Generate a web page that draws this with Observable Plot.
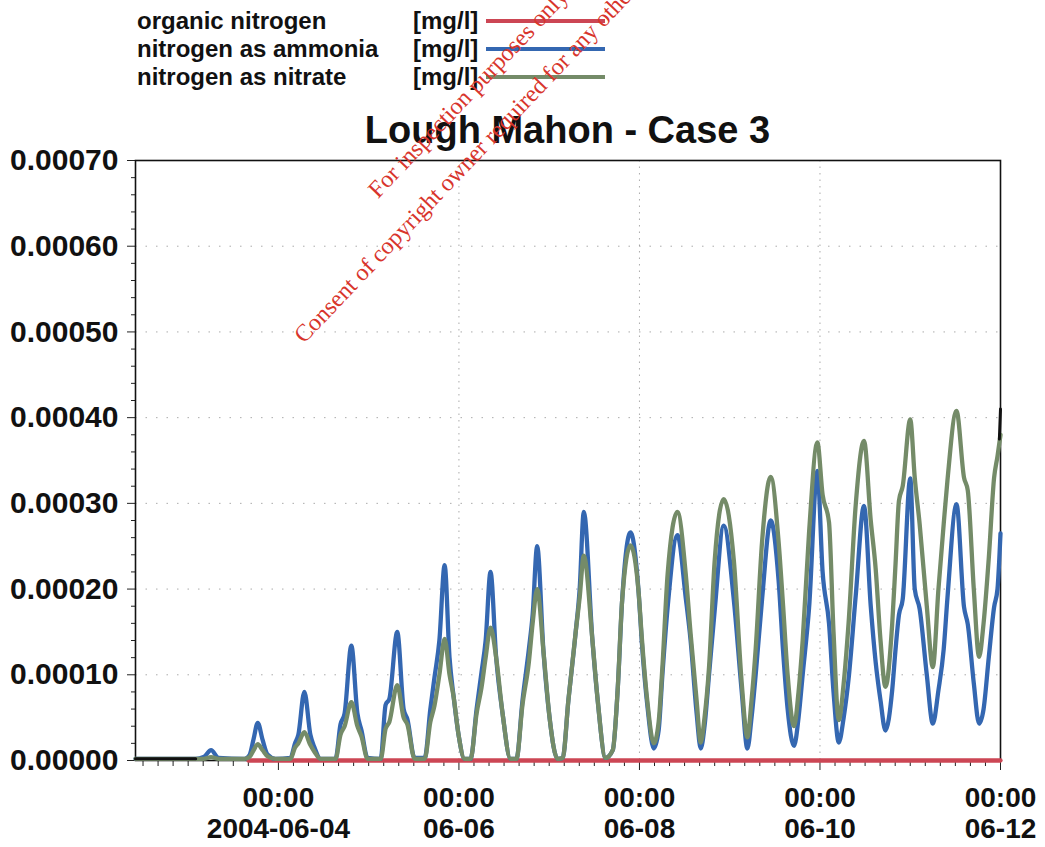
<!DOCTYPE html>
<html><head><meta charset="utf-8">
<script src="https://cdn.jsdelivr.net/npm/d3@7"></script>
<script src="https://cdn.jsdelivr.net/npm/@observablehq/plot@0.6"></script>
<style>
html,body{margin:0;padding:0;background:#fff;}
body{width:1045px;height:847px;position:relative;overflow:hidden;font-family:"Liberation Sans",Arial,sans-serif;color:#111;}
.lg{position:absolute;font-weight:bold;font-size:24px;line-height:26px;white-space:nowrap;}
.sw{position:absolute;height:4px;}
#title{position:absolute;left:135px;width:865px;top:108px;text-align:center;font-weight:bold;font-size:38px;line-height:44px;}
#chart{position:absolute;left:0;top:150px;}
.wm{position:absolute;font-family:"Liberation Serif","Times New Roman",serif;font-size:24px;line-height:24px;color:#d8352c;white-space:nowrap;transform-origin:0 100%;transform:rotate(-46.5deg);z-index:5;}
</style>
</head><body>
<div id="legend"></div>
<div id="title">Lough Mahon - Case 3</div>
<div id="chart"></div>
<div class="wm" style="left:381px;top:178px;">For inspection purposes only.</div>
<div class="wm" style="left:307px;top:323px;">Consent of copyright owner required for any other use.</div>
<script>
// ---- data (hours after 2004-06-02 00:00 UTC, values in mg/l) ----
const seriesNames = ["organic nitrogen", "nitrogen as ammonia", "nitrogen as nitrate"];
const seriesUnit = "[mg/l]";
const seriesColors = ["#cc4654", "#3467b1", "#748b68"];

const hours = [10.0, 26.0, 28.1, 30.1, 32.1, 39.0, 40.3, 41.4, 42.5, 43.8, 45.1, 47.2,
  51.2, 52.4, 53.3, 54.9, 56.5, 57.6, 59.2, 63.2, 64.5, 65.6, 67.4, 69.0, 70.1, 71.7,
  75.2, 76.5, 77.5, 79.6, 81.3, 82.3, 84.2, 86.9, 88.4, 89.5, 90.8, 92.2, 93.5, 94.6, 95.9, 97.5,
  99.1, 100.7, 102.0, 103.1, 104.4, 105.9, 107.6, 109.7, 111.3, 112.9, 114.6, 115.6, 116.8, 118.5, 120.1, 122.2,
  123.6, 125.1, 127.0, 128.1, 129.2, 131.5, 132.9, 135.0, 136.9, 138.2, 139.4, 141.6, 143.8, 144.6, 146.2, 147.8,
  149.1, 150.1, 151.5, 154.1, 156.3, 157.6, 159.2, 160.3, 161.3, 162.5, 164.0, 166.4, 169.1, 171.2, 172.7,
  173.8, 174.9, 176.6, 178.9, 181.0, 182.2, 183.4, 185.1, 186.3, 187.4, 189.1, 191.3, 192.7, 194.4, 195.6, 197.0,
  198.3, 199.6, 201.5, 203.7, 205.5, 206.8, 208.1, 209.4, 211.2, 212.1, 213.0, 214.0, 216.0, 217.2, 218.5, 220.4, 222.0,
  223.5, 224.9, 225.9, 228.3, 230.3, 231.3, 232.9, 234.3, 235.5, 236.9, 238.3, 239.2, 240.0];

const ammonia = [0.02e-4, 0.02e-4, 0.04e-4, 0.12e-4, 0.03e-4, 0.02e-4, 0.06e-4, 0.25e-4, 0.44e-4, 0.24e-4, 0.07e-4, 0.02e-4,
  0.03e-4, 0.20e-4, 0.30e-4, 0.80e-4, 0.30e-4, 0.15e-4, 0.02e-4, 0.02e-4, 0.42e-4, 0.55e-4, 1.34e-4, 0.55e-4, 0.35e-4, 0.03e-4,
  0.02e-4, 0.65e-4, 0.72e-4, 1.50e-4, 0.60e-4, 0.48e-4, 0.03e-4, 0.03e-4, 0.60e-4, 0.97e-4, 1.40e-4, 2.28e-4, 1.20e-4, 0.74e-4, 0.30e-4, 0.02e-4,
  0.02e-4, 0.60e-4, 1.03e-4, 1.40e-4, 2.20e-4, 1.20e-4, 0.55e-4, 0.02e-4, 0.02e-4, 0.70e-4, 1.30e-4, 1.70e-4, 2.50e-4, 1.26e-4, 0.50e-4, 0.02e-4,
  0.03e-4, 0.70e-4, 1.48e-4, 2.00e-4, 2.90e-4, 1.40e-4, 0.70e-4, 0.03e-4, 0.12e-4, 0.82e-4, 1.87e-4, 2.66e-4, 1.95e-4, 1.40e-4, 0.60e-4, 0.14e-4,
  0.35e-4, 1.00e-4, 1.79e-4, 2.63e-4, 1.90e-4, 1.40e-4, 0.55e-4, 0.14e-4, 0.40e-4, 1.00e-4, 1.75e-4, 2.74e-4, 1.87e-4, 0.80e-4, 0.14e-4,
  0.50e-4, 1.00e-4, 1.88e-4, 2.80e-4, 2.10e-4, 1.27e-4, 0.60e-4, 0.17e-4, 0.50e-4, 1.00e-4, 1.78e-4, 3.38e-4, 2.20e-4, 1.60e-4, 0.80e-4, 0.21e-4,
  0.50e-4, 0.95e-4, 1.92e-4, 2.97e-4, 1.80e-4, 1.15e-4, 0.70e-4, 0.35e-4, 0.82e-4, 1.30e-4, 1.70e-4, 1.88e-4, 3.29e-4, 2.00e-4, 1.77e-4, 1.00e-4, 0.43e-4,
  0.82e-4, 1.30e-4, 1.90e-4, 2.99e-4, 1.79e-4, 1.59e-4, 0.90e-4, 0.43e-4, 0.60e-4, 1.21e-4, 1.79e-4, 2.00e-4, 2.65e-4];

const nitrate = [0.02e-4, 0.02e-4, 0.02e-4, 0.04e-4, 0.02e-4, 0.02e-4, 0.04e-4, 0.12e-4, 0.19e-4, 0.12e-4, 0.05e-4, 0.02e-4,
  0.02e-4, 0.15e-4, 0.20e-4, 0.33e-4, 0.18e-4, 0.10e-4, 0.02e-4, 0.02e-4, 0.30e-4, 0.40e-4, 0.68e-4, 0.40e-4, 0.28e-4, 0.02e-4,
  0.02e-4, 0.37e-4, 0.45e-4, 0.88e-4, 0.50e-4, 0.42e-4, 0.02e-4, 0.02e-4, 0.45e-4, 0.64e-4, 1.00e-4, 1.42e-4, 1.00e-4, 0.74e-4, 0.30e-4, 0.02e-4,
  0.02e-4, 0.55e-4, 0.85e-4, 1.20e-4, 1.55e-4, 1.20e-4, 0.55e-4, 0.02e-4, 0.02e-4, 0.65e-4, 1.15e-4, 1.60e-4, 2.00e-4, 1.26e-4, 0.50e-4, 0.02e-4,
  0.03e-4, 0.70e-4, 1.48e-4, 1.90e-4, 2.39e-4, 1.40e-4, 0.70e-4, 0.03e-4, 0.12e-4, 0.82e-4, 1.87e-4, 2.51e-4, 1.95e-4, 1.45e-4, 0.65e-4, 0.20e-4,
  0.45e-4, 1.09e-4, 2.18e-4, 2.90e-4, 2.18e-4, 1.48e-4, 0.70e-4, 0.21e-4, 0.50e-4, 1.09e-4, 2.33e-4, 3.05e-4, 2.33e-4, 0.90e-4, 0.27e-4,
  0.70e-4, 1.30e-4, 2.55e-4, 3.31e-4, 2.55e-4, 1.80e-4, 1.00e-4, 0.40e-4, 0.80e-4, 1.40e-4, 2.66e-4, 3.71e-4, 3.10e-4, 2.78e-4, 1.50e-4, 0.47e-4,
  0.90e-4, 1.60e-4, 2.98e-4, 3.73e-4, 2.80e-4, 2.24e-4, 1.40e-4, 0.86e-4, 1.59e-4, 2.30e-4, 3.03e-4, 3.20e-4, 3.98e-4, 3.30e-4, 2.76e-4, 1.80e-4, 1.09e-4,
  2.00e-4, 2.76e-4, 3.27e-4, 4.08e-4, 3.30e-4, 3.15e-4, 2.00e-4, 1.21e-4, 1.60e-4, 2.37e-4, 3.30e-4, 3.55e-4, 3.80e-4];

const organicHours = [40.0, 240.0];
const organic = [0, 0];

// unlabelled dark trace, visible at the start and at the right edge
const darkHours = [10.0, 26.0, 239.7, 240.0];
const dark = [0.02e-4, 0.02e-4, 3.75e-4, 4.10e-4];
const darkPart = ["a", "a", "b", "b"];

const yTicks = [0, 0.0001, 0.0002, 0.0003, 0.0004, 0.0005, 0.0006, 0.0007];
const xTickDays = ["2004-06-04", "2004-06-06", "2004-06-08", "2004-06-10", "2004-06-12"];
const xTickLabels = ["00:00\n2004-06-04", "00:00\n06-06", "00:00\n06-08", "00:00\n06-10", "00:00\n06-12"];
const gridDays = ["2004-06-06", "2004-06-08", "2004-06-10"];
const startHour = 10, endHour = 240;

// ---- build ----
const base = Date.UTC(2004, 5, 2);
const toDate = h => new Date(base + h * 3600e3);
const day = s => new Date(s + "T00:00:00Z");

const rows = (hs, vs) => hs.map((h, i) => ({t: toDate(h), v: vs[i]}));
const amm = rows(hours, ammonia);
const nit = rows(hours, nitrate);
const org = rows(organicHours, organic);
const drk = darkHours.map((h, i) => ({t: toDate(h), v: dark[i], z: darkPart[i]}));

const xMajor = xTickDays.map(day);
const labelOf = new Map(xMajor.map((d, i) => [+d, xTickLabels[i]]));
const xMinor = d3.utcHour.every(4).range(toDate(startHour), toDate(endHour + 0.1)).filter(d => !labelOf.has(+d));
const yMinor = d3.range(0, 36).map(i => i * 0.00002).filter(v => Math.abs(v / 0.0001 - Math.round(v / 0.0001)) > 1e-6);

// legend
const legend = document.getElementById("legend");
const rowY = [21, 49, 77];
seriesNames.forEach((n, i) => {
  const a = document.createElement("div"); a.className = "lg"; a.style.left = "137px"; a.style.top = (rowY[i] - 13) + "px"; a.textContent = n; legend.appendChild(a);
  const b = document.createElement("div"); b.className = "lg"; b.style.left = "413px"; b.style.top = (rowY[i] - 13) + "px"; b.textContent = seriesUnit; legend.appendChild(b);
  const c = document.createElement("div"); c.className = "sw"; c.style.left = "486px"; c.style.width = "119px"; c.style.top = (rowY[i] - 2) + "px"; c.style.background = seriesColors[i]; legend.appendChild(c);
});

const lineOpts = (color) => ({x: "t", y: "v", stroke: color, strokeWidth: 4.3, curve: "monotone-x", strokeLinejoin: "round", strokeLinecap: "round"});

const chart = Plot.plot({
  width: 1045,
  height: 697,
  marginTop: 10,
  marginBottom: 87,
  marginLeft: 135,
  marginRight: 45,
  x: {type: "utc", domain: [toDate(startHour), toDate(endHour)], label: null},
  y: {domain: [0, 0.0007], label: null},
  style: {fontFamily: "'Liberation Sans', Arial, sans-serif", fontWeight: "bold", color: "#111", background: "transparent", overflow: "visible"},
  marks: [
    Plot.gridY(yTicks.slice(1, -1), {stroke: "#666", strokeOpacity: 0.55, strokeDasharray: "1.5,9"}),
    Plot.gridX(gridDays.map(day), {stroke: "#666", strokeOpacity: 0.55, strokeDasharray: "1.5,5"}),
    Plot.axisY(yMinor, {tickSize: 4, text: null, label: null, stroke: "#222"}),
    Plot.axisY(yTicks, {tickSize: 8, tickPadding: 9, fontSize: 30, label: null, stroke: "#222", tickFormat: d => d.toFixed(5)}),
    Plot.axisX(xMinor, {tickSize: 6, text: null, label: null, stroke: "#222"}),
    Plot.axisX(xMajor, {tickSize: 10, tickPadding: 15, fontSize: 28, lineHeight: 1.1, label: null, stroke: "#222", tickFormat: d => labelOf.get(+d)}),
    Plot.frame({stroke: "#111", strokeWidth: 1.6}),
    Plot.line(org, lineOpts(seriesColors[0])),
    Plot.line(amm, lineOpts(seriesColors[1])),
    Plot.line(nit, lineOpts(seriesColors[2])),
    Plot.line(drk, {x: "t", y: "v", z: "z", stroke: "#111", strokeWidth: 3})
  ]
});
document.getElementById("chart").appendChild(chart);
</script>
</body></html>
